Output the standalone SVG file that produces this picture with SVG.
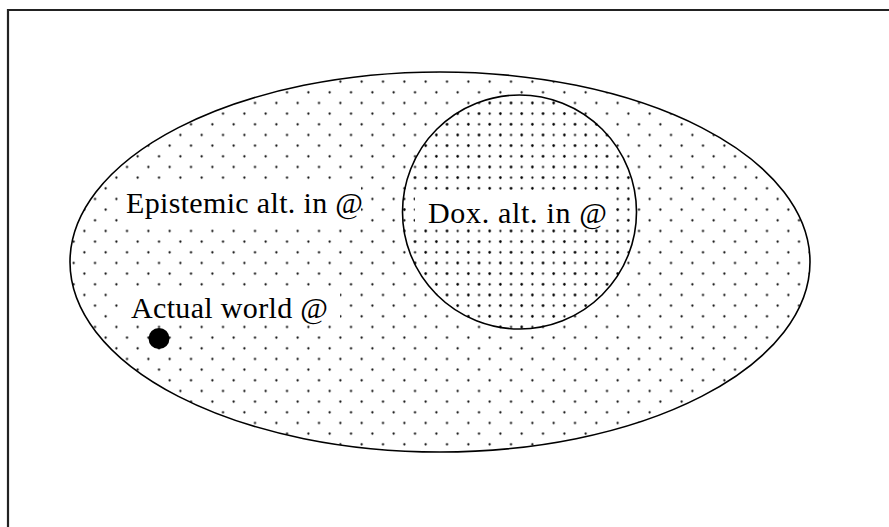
<svg xmlns="http://www.w3.org/2000/svg" width="889" height="527" viewBox="0 0 889 527">
  <defs>
    <pattern id="sparse" patternUnits="userSpaceOnUse" x="4.35" y="1.67" width="21.333" height="21.333">
      <circle cx="5.35" cy="5.33" r="1.1" fill="#000"/>
      <circle cx="16.0" cy="16.0" r="1.1" fill="#000"/>
    </pattern>
    <pattern id="dense" patternUnits="userSpaceOnUse" x="4.35" y="1.67" width="10.667" height="10.667">
      <circle cx="5.35" cy="5.33" r="1.1" fill="#000"/>
    </pattern>
  </defs>
  <style>
    .outline { stroke: #000; stroke-width: 1.6; }
    .label { font-family: "Liberation Serif", "Times New Roman", serif; font-size: 30px; fill: #000; }
    .bg { fill: #fff; stroke: none; }
  </style>
  <rect x="0" y="0" width="889" height="527" fill="#fff"/>
  <path d="M 8 530 V 10 H 895" fill="none" stroke="#222" stroke-width="2.2"/>
  <g id="epistemic">
    <ellipse cx="440" cy="262" rx="370" ry="190" fill="url(#sparse)" class="outline"/>
    <rect class="bg" x="119" y="181" width="242" height="44"/>
    <text class="label" x="126" y="213" textLength="237" lengthAdjust="spacing">Epistemic alt. in @</text>
  </g>
  <g id="doxastic">
    <circle cx="519.5" cy="212" r="117" fill="url(#dense)" class="outline"/>
    <rect class="bg" x="415" y="193" width="198" height="36"/>
    <text class="label" x="428" y="223" textLength="179" lengthAdjust="spacing">Dox. alt. in @</text>
  </g>
  <g id="actual">
    <rect class="bg" x="125" y="287" width="215" height="36"/>
    <text class="label" x="131" y="318" textLength="197" lengthAdjust="spacing">Actual world @</text>
    <circle cx="159" cy="338.5" r="10.5" fill="#000"/>
  </g>
  <g id="connectors"/>
</svg>
